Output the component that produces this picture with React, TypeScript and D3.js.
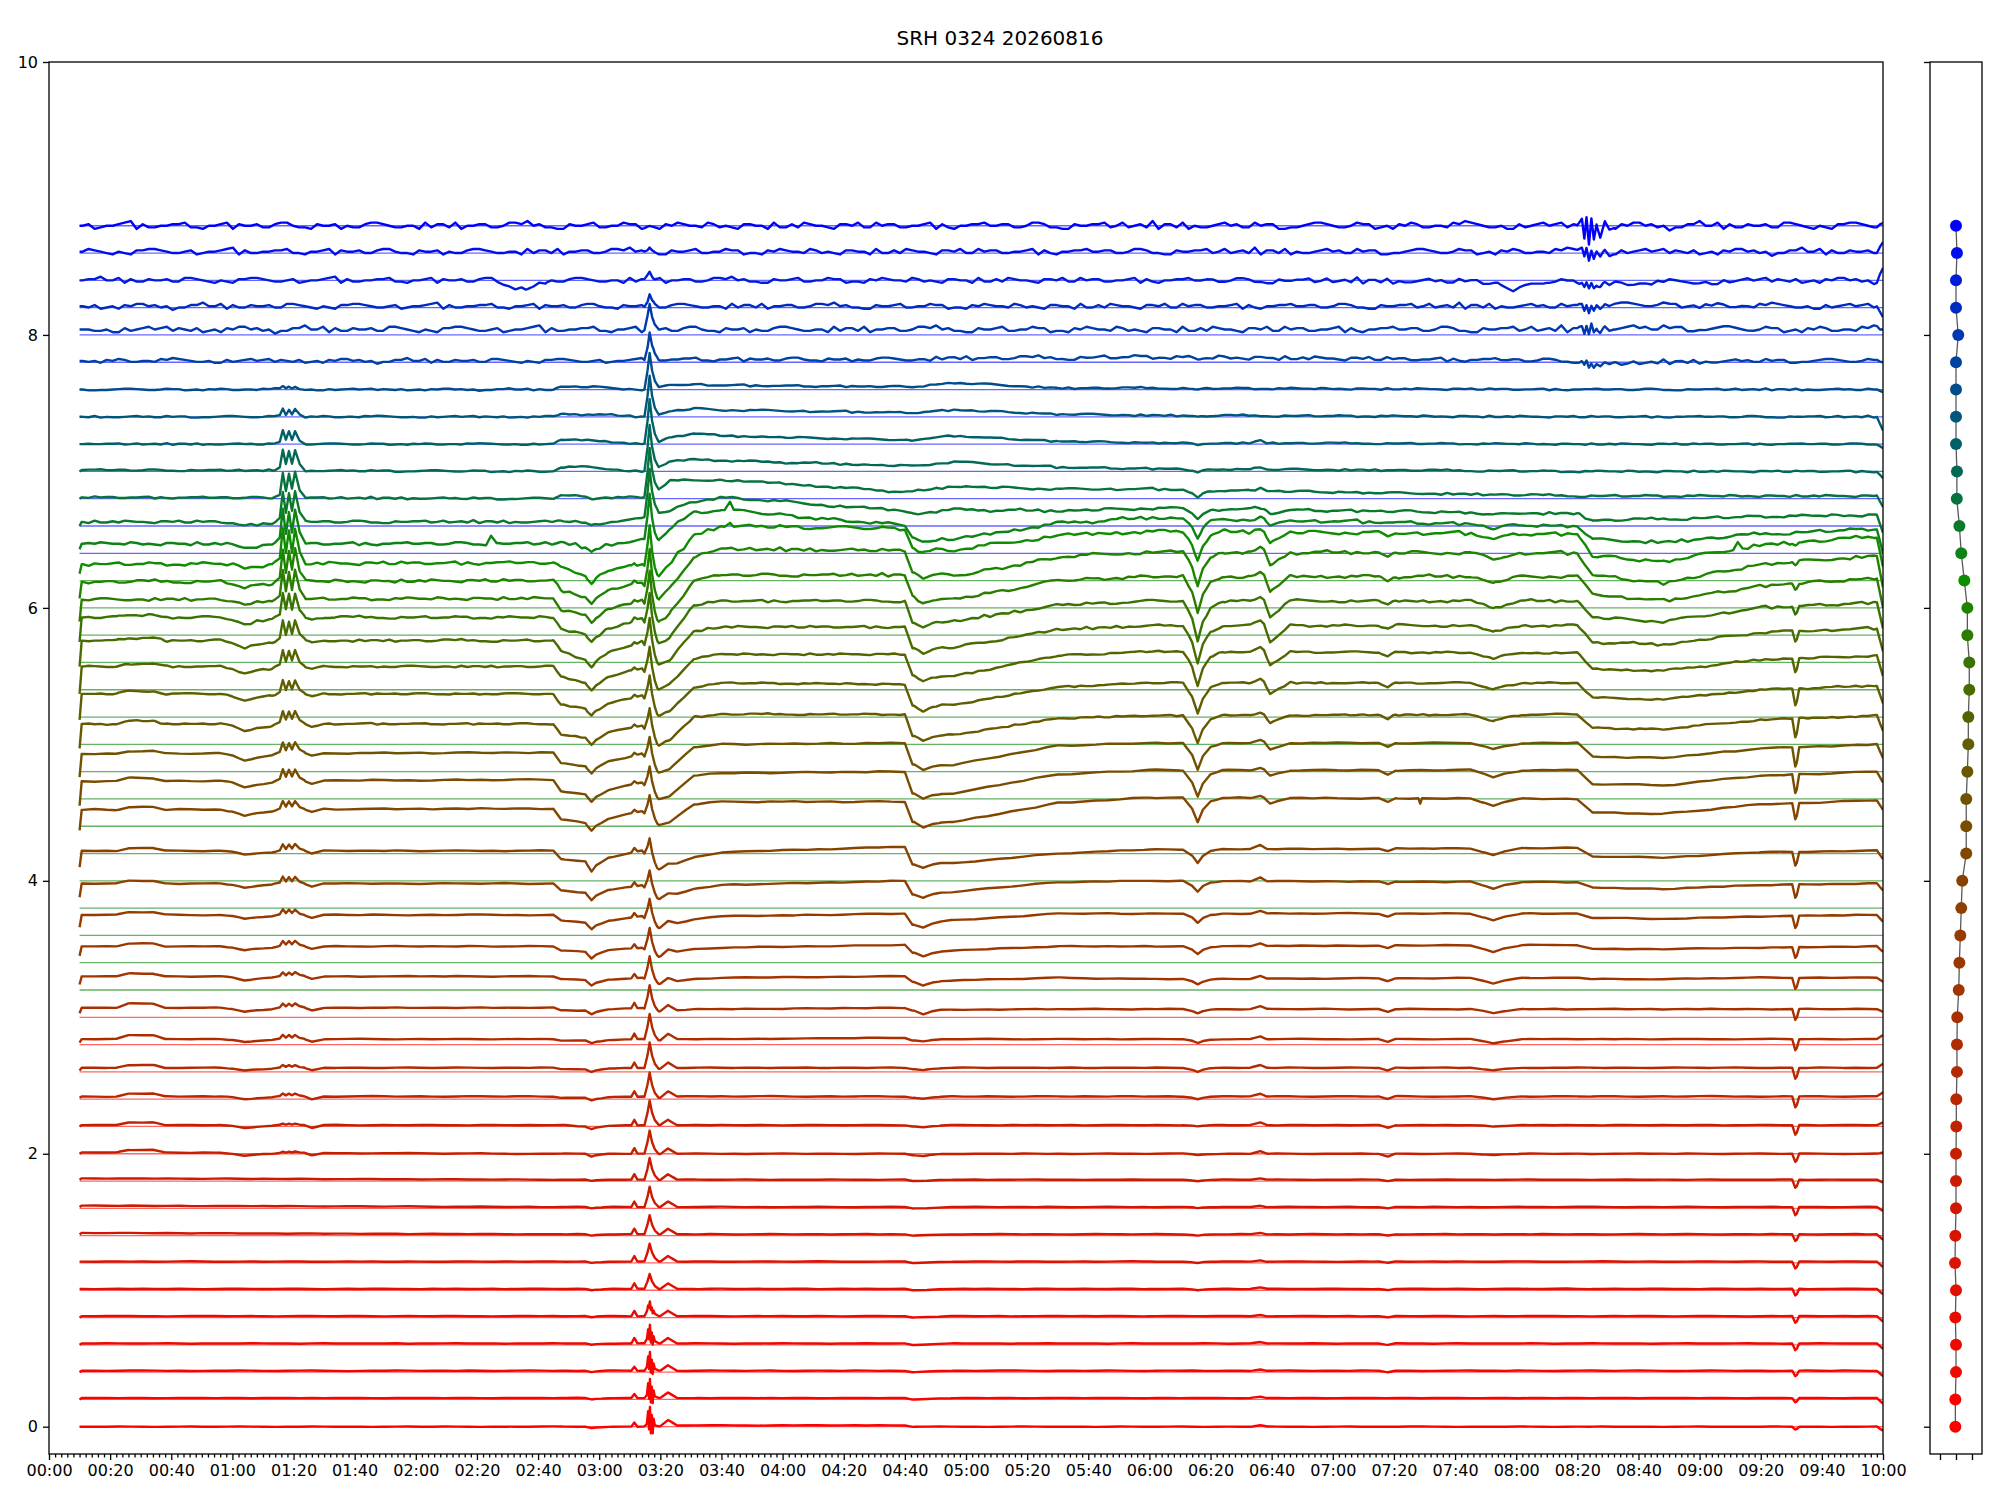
import React, { useEffect, useRef } from "react";
import * as d3 from "d3";

// ---------- data ----------
const title = "SRH 0324 20260816";

// vertical offset of every trace (frequency channel), bottom to top
const offsets = [
  0, 0.2, 0.4, 0.6, 0.8, 1.0, 1.2, 1.4, 1.6, 1.8,
  2.0, 2.2, 2.4, 2.6, 2.8, 3.0, 3.2, 3.4, 3.6, 3.8,
  4.0, 4.2, 4.4, 4.6, 4.8, 5.0, 5.2, 5.4, 5.6, 5.8,
  6.0, 6.2, 6.4, 6.6, 6.8, 7.0, 7.2, 7.4, 7.6, 7.8,
  8.0, 8.2, 8.4, 8.6, 8.8,
];

const timeLabels = [
  "00:00", "00:20", "00:40", "01:00", "01:20", "01:40", "02:00", "02:20", "02:40", "03:00", "03:20",
  "03:40", "04:00", "04:20", "04:40", "05:00", "05:20", "05:40", "06:00", "06:20", "06:40",
  "07:00", "07:20", "07:40", "08:00", "08:20", "08:40", "09:00", "09:20", "09:40", "10:00",
];
const yTicks = [0, 2, 4, 6, 8, 10];

// slow level of each trace above its offset (hundredths), at these minutes
const levelTimes = [10, 10.7, 165, 167.5, 176, 194, 199, 203, 211, 220, 280, 282.5, 296, 330, 360, 500, 505, 528, 560, 598, 600];
const levelRows = [
  [0, 0, 0, 0, 0, 0, 0, 1, 1, 1, 1, 0, 0, 0, 0, 0, 0, 0, 0, 0, -3],
  [0, 1, 1, 1, 1, 1, 1, 1, 1, 1, 1, 0, 1, 1, 1, 1, 1, 1, 1, 1, -3],
  [0, 1, 1, 1, 1, 1, 1, 1, 1, 1, 1, 0, 1, 1, 1, 1, 1, 1, 1, 1, -3],
  [0, 1, 1, 1, 1, 1, 1, 1, 1, 1, 1, 0, 1, 1, 1, 1, 1, 1, 1, 1, -3],
  [0, 1, 1, 1, 1, 1, 1, 1, 1, 1, 1, 0, 1, 1, 1, 1, 1, 1, 1, 1, -3],
  [1, 1, 1, 1, 1, 1, 1, 1, 1, 1, 1, 0, 1, 1, 1, 1, 1, 1, 1, 1, -3],
  [1, 1, 1, 1, 1, 1, 1, 1, 1, 1, 1, 0, 1, 1, 1, 1, 1, 1, 1, 1, -3],
  [1, 2, 1, 1, 1, 1, 1, 1, 1, 1, 1, 0, 1, 1, 1, 1, 1, 1, 1, 1, -3],
  [1, 2, 1, 1, 1, 1, 1, 1, 1, 1, 1, 0, 1, 1, 1, 1, 1, 1, 1, 1, -2],
  [1, 2, 1, 1, 1, 1, 1, 1, 1, 1, 1, 0, 1, 1, 1, 1, 1, 1, 1, 1, -1],
  [0, 1, 0, 0, 0, 0, 0, 0, 0, 0, 0, -1, 0, 0, 0, 0, 0, 0, 0, 0, 1],
  [0, 1, 1, 1, 0, 1, 1, 1, 1, 1, 1, 0, 1, 1, 1, 1, 1, 1, 1, 1, 3],
  [1, 2, 2, 1, 1, 2, 1, 2, 2, 2, 2, 1, 2, 2, 2, 2, 2, 2, 2, 2, 5],
  [1, 3, 3, 2, 2, 3, 2, 3, 3, 3, 3, 2, 3, 3, 3, 3, 3, 3, 3, 3, 6],
  [1.5, 4, 4, 3, 3, 4, 3, 4, 4, 4, 5, 3, 4, 4, 4, 4, 4, 4, 4, 4, 7],
  [3, 7, 7, 5, 5, 7, 4, 5, 6, 6, 7, 5, 5.5, 6, 6, 6, 6, 6, 6, 6, 4],
  [4, 10, 10, 8, 7, 9, 4, 6, 8, 9, 10, 6, 7, 9, 8, 9, 8, 8, 9, 9, 6],
  [5, 12, 12, 9, 8, 11, 4, 7, 10, 11, 13, 7, 9, 12, 12, 13, 10, 10, 11, 12, 8],
  [6, 15, 15, 11, 9, 14, 5, 8, 12, 14, 16, 8, 11, 16, 16, 16, 13, 12, 14, 15, 10],
  [8, 18, 18, 13, 11, 17, 6, 9, 14, 17, 20, 10, 12, 19, 20, 19, 15, 14, 17, 18, 13],
  [10, 22, 22, 16, 14, 22, 8, 11, 17, 21, 25, 12, 13, 20, 23, 24, 18, 17, 21, 22, 16],
  [17, 32, 33, 25, 22, 31, 21, 23, 36, 38, 38, 23, 23, 37, 41, 40, 30, 29, 36, 39, 32],
  [15, 33, 34, 26, 23, 32, 20, 22, 37, 39, 40, 24, 24, 38, 41, 41, 31, 30, 37, 40, 32],
  [16, 33, 34, 26, 24, 33, 19, 22, 38, 40, 41, 25, 25, 39, 41, 41, 31, 30, 37, 40, 30],
  [17, 35, 35, 27, 25, 34, 19, 23, 40, 42, 42, 26, 27, 39, 41, 42, 32, 31, 38, 41, 30],
  [18, 37, 37, 29, 26, 36, 20, 24, 42, 45, 44, 28, 29, 42, 45, 45, 34, 33, 40, 43, 30],
  [17, 37, 37, 29, 25, 36, 19, 24, 43, 46, 46, 30, 30, 45, 48, 47, 35, 34, 42, 45, 30],
  [17, 36, 36, 28, 22, 35, 18, 22, 43, 46, 46, 30, 31, 44, 47, 47, 35, 33, 42, 45, 28],
  [15, 33, 33, 25, 20, 32, 14, 18, 42, 45, 45, 29, 30, 42, 45, 45, 33, 30, 40, 44, 25],
  [10, 26, 27, 19, 14, 26, 8, 16, 40, 44, 44, 28, 26, 40, 43, 43, 30, 25, 36, 42, 20],
  [7, 19, 20, 13, 8, 19, 4, 14, 38, 43, 42, 27, 23, 37, 41, 40, 24, 18, 32, 38, 15],
  [5, 12, 13, 9, 4, 12, 2, 12, 33, 40, 38, 24, 22, 33, 36, 34, 18, 14, 26, 32, 10],
  [3, 7, 7, 8, 4, 10, 8, 18, 30, 32, 20, 12, 10, 22, 26, 20, 10, 8, 14, 18, 0],
  [0, 3, 3, 4, 2, 5, 10, 11, 18, 21, 11, 9, 12, 11, 13, 9, 4, 5, 7, 8, -5],
  [0, 1, 0, 3, 1, 1, 6, 13, 13, 14, 5, 5, 9, 7, 7, 2, 2, 2, 2, 2, -6],
  [0, 1, 0, 3, 3, 0, 2, 7, 9, 8, 4, 4, 7, 3, 2, 0, 0, 0, 0, 0, -5],
  [0, 0, 0, 3, 3, 0, 1, 5, 8, 6, 3, 3, 6, 2, 1, 0, 0, 0, 0, 0, -3],
  [0, 0, 0, 2, 2, 0, 1, 4, 6, 5, 3, 3, 5, 2, 1, 0, 0, 0, 0, 0, -10],
  [0, 0, 0, 2, 2, 0, 1, 3, 4, 3, 2, 2, 5, 1, 1, 0, 0, 0, 0, 0, -2],
  [1, 1, 1, 1, 1, 1, 2, 2, 2, 2, 2, 2, 3, 3, 4, 1, -2, 0, 1, 1, 0],
  [4, 4, 4, 4, 4, 4, 4, 4, 4, 4, 4, 4, 4, 4, 4, 4, 5, 5, 4, 4, 4],
  [1, 1, 1, 1, 1, 1, 1, 1, 1, 1, 1, 1, 1, 1, 1, 1, 2, 2, 1, 1, -7],
  [0, 0, 0, 0, 0, 0, 0, 0, 0, 0, 0, 0, 0, 0, 0, -1, -3, -2, 0, 0, 9],
  [1, 1, 1, 1, 1, 1, 1, 1, 1, 1, 1, 1, 1, 1, 1, 1, 1, 1, 1, 1, 8],
  [0, 0, 0, 0, 0, 0, 0, 0, 0, 0, 0, 0, 0, 0, 0, 0, 0, 0, 0, 0, 2],
];

// shapes of the short events ([minute, relative size])
const burstShape = [[73, 0], [75.5, 0.15], [76.5, 1], [77.5, 0.3], [78.5, 0.95], [79.5, 0.35], [80.5, 1], [82, 0.3], [84, 0]];
const dip64Shape = [[56, 0], [60, -0.3], [64, -1], [68, -0.6], [73, -0.3], [76, 0]];
const dip86Shape = [[83.5, 0], [86, -1], [90, 0]];
const bump30Shape = [[22, 0], [26, 1], [34, 1], [38, 0]];
const dip177Shape = [[175.5, 0], [177.5, -1], [179, -0.5], [183, 0]];
const pre191Shape = [[190.5, 0], [191.5, 1], [192.5, 0]];
const spikeShape = [[194.8, 0], [195.8, 0.5], [196.5, 1], [197.3, 0.5], [198.2, 0.2], [199.5, 0]];
const bump202Shape = [[200, 0], [202.5, 1], [205.5, 0]];
const jitterShape = [[195.6, 0], [196, 1], [196.3, -0.8], [196.6, 1.2], [196.9, -1.1], [197.2, 0.7], [197.5, -0.9], [197.8, 0.5], [198.2, 0]];
const dip286Shape = [[283, 0], [286, -1], [289, -0.3], [292, 0]];
const dip375Shape = [[371, 0], [374, -0.45], [375.8, -1], [377.5, -0.5], [380, -0.15], [384, 0]];
const dip399Shape = [[393, 0], [396.3, 0.2], [397.5, 0.05], [399.5, -1], [402, -0.6], [406, 0]];
const bump396Shape = [[393, 0], [396.3, 1], [398.5, 0]];
const dip438Shape = [[435, 0], [438, -1], [440.5, 0]];
const dip472Shape = [[465, 0], [470, -0.6], [472.5, -1], [476, -0.5], [482, 0]];
const dip571Shape = [[570.3, 0], [571.3, -1], [571.8, -0.8], [572.6, 0]];
const stormShape = [[500, 0], [501.5, 0.4], [502.3, -0.6], [503, 0.5], [503.8, -1], [504.6, 0.3], [505.4, -0.7], [506.3, 0.2], [507.5, -0.5], [509, 0.3], [510.5, -0.2], [512, 0]];

// size of each event on each trace (hundredths), bottom to top
const burstAmp = [0, 0, 0, 0, 0, 0, 0, 0, 0, 0, 1, 1, 2, 2, 3, 3, 3, 4, 4, 5, 5, 6, 8, 8, 9, 10, 12, 15, 18, 22, 24, 26, 25, 22, 19, 15, 10, 6, 2, 0, 0, 0, 0, 0, 0];
const dip64Amp = [0, 0, 0, 0, 0, 0, 0, 0, 0, 0, 2, 2, 2, 2, 2, 3, 3, 3, 3, 3, 3, 5, 5, 5, 5, 5, 5, 5, 5, 5, 5, 3, 3, 3, 0, 0, 0, 0, 0, 0, 0, 0, 0, 0, 0];
const dip86Amp = [0, 0, 0, 0, 0, 0, 0, 0, 0, 0, 2, 2, 2, 2, 2, 2, 2, 2, 2, 2, 2, 2, 2, 2, 2, 2, 2, 2, 2, 0, 0, 0, 0, 0, 0, 0, 0, 0, 0, 0, 0, 0, 0, 0, 0];
const bump30Amp = [0, 0, 0, 0, 0, 0, 0, 0, 0, 0, 2, 2, 2, 2, 3, 3, 2, 2, 2, 2, 2, 2, 2, 2, 2, 2, 2, 2, 2, 0, 0, 0, 0, 0, 0, 0, 0, 0, 0, 0, 0, 0, 0, 0, 0];
const dip177Amp = [1, 1, 1, 1, 1, 1, 1, 1, 1, 1, 2, 2, 2, 2, 2, 3, 4, 5, 5, 6, 8, 6, 6, 6, 6, 6, 6, 6, 6, 6, 6, 6, 4, 2, 1, 0, 0, 0, 0, 0, 0, 0, 0, 0, 0];
const pre191Amp = [3, 3, 3, 4, 4, 4, 4, 4, 4, 4, 4, 4, 4, 4, 4, 4, 3, 3, 3, 3, 3, 2, 2, 2, 2, 2, 2, 2, 2, 2, 2, 2, 0, 0, 0, 0, 0, 0, 0, 0, 0, 0, 0, 0, 0];
const spikeAmp = [5, 6, 7, 8, 9, 11, 13, 14, 15, 16, 17, 18, 18, 19, 19, 18, 18, 18, 17, 16, 16, 17, 18, 19, 20, 22, 24, 26, 28, 30, 32, 33, 34, 34, 34, 33, 32, 30, 26, 21, 18, 10, 6, 4, 1];
const bump202Amp = [4, 4, 4, 4, 4, 4, 4, 4, 4, 4, 4, 4, 4, 4, 4, 4, 3, 3, 3, 2, 2, 0, 0, 0, 0, 0, 0, 0, 0, 0, 0, 0, 0, 0, 0, 0, 0, 0, 0, 0, 0, 0, 0, 0, 0];
const jitterAmp = [8, 7, 6, 5, 2, 0, 0, 0, 0, 0, 0, 0, 0, 0, 0, 0, 0, 0, 0, 0, 0, 0, 0, 0, 0, 0, 0, 0, 0, 0, 0, 0, 0, 0, 0, 0, 0, 0, 0, 0, 0, 0, 0, 0, 0];
const dip286Amp = [0, 0, 0, 0, 0, 0, 0, 0, 0, 0, 1, 1, 1, 1, 1, 3, 3, 3, 3, 3, 3, 4, 4, 4, 4, 4, 4, 4, 4, 4, 4, 3, 3, 0, 0, 0, 0, 0, 0, 0, 0, 0, 0, 0, 0];
const dip375Amp = [0, 0, 0, 0, 0, 1, 1, 1, 1, 1, 1, 1, 2, 3, 3, 3, 4, 6, 7, 8, 10, 18, 19, 20, 20, 22, 25, 28, 30, 28, 25, 20, 14, 7, 6, 3, 2, 1, 1, 2, 0, 0, 0, 0, 0];
const dip399Amp = [0, 0, 0, 0, 0, 0, 0, 0, 0, 0, 0, 0, 0, 0, 0, 0, 0, 0, 0, 0, 0, 4, 4, 5, 6, 8, 10, 12, 12, 12, 10, 8, 5, 3, 0, 0, 0, 0, 0, 0, 0, 0, 0, 0, 0];
const bump396Amp = [1, 1, 1, 1, 1, 1, 1, 1, 1, 1, 2, 2, 2, 2, 2, 2, 2, 2, 2, 3, 3, 1, 1, 1, 1, 1, 1, 1, 1, 1, 1, 1, 1, 1, 2, 2, 2, 0, 0, 0, 0, 0, 0, 0, 0];
const dip438Amp = [0, 0, 1, 1, 1, 1, 1, 1, 1, 1, 2, 2, 2, 2, 2, 2, 2, 2, 2, 2, 2, 3, 3, 3, 3, 3, 3, 3, 3, 3, 3, 3, 0, 0, 0, 0, 0, 0, 0, 0, 0, 0, 0, 0, 0];
const dip472Amp = [0, 0, 0, 0, 0, 0, 0, 0, 0, 0, 1, 1, 2, 2, 3, 3, 4, 5, 5, 5, 5, 5, 5, 5, 5, 5, 5, 5, 5, 5, 5, 4, 3, 2, 0, 0, 0, 0, 0, 0, 0, 0, 0, 0, 0];
const dip571Amp = [2, 3, 4, 5, 5, 5, 5, 5, 6, 6, 6, 7, 8, 8, 8, 8, 8, 8, 9, 10, 10, 12, 14, 14, 14, 12, 10, 8, 6, 4, 3, 2, 0, 0, 0, 0, 0, 0, 0, 0, 0, 0, 0, 0, 0];
const stormAmp = [0, 0, 0, 0, 0, 0, 0, 0, 0, 0, 0, 0, 0, 0, 0, 0, 0, 0, 0, 0, 0, 0, 0, 0, 0, 0, 0, 0, 0, 0, 0, 0, 0, 0, 0, 0, 0, 0, 0, 3, 5, 4, 3, 6, 14];

// single features that only show on one trace
const oneOffs = [
  { series: 42, amp: 7, shape: [[145, 0], [156, -1], [163, 0]] },
  { series: 42, amp: 8, shape: [[474, 0], [479, -1], [485, -0.3], [490, 0]] },
  { series: 32, amp: 7, shape: [[143, 0], [144.6, 1], [146.5, 0]] },
  { series: 32, amp: 6, shape: [[221, 0], [222.8, 1], [224, 0]] },
  { series: 31, amp: 3, shape: [[221, 0], [222.8, 1], [224, 0]] },
  { series: 31, amp: 5, shape: [[551, 0], [552.5, 1], [554, 0]] },
  { series: 21, amp: 4, shape: [[448, 0], [448.6, -1], [449.2, 0]] },
];

// small fast wiggles (hundredths) and how strong they are on each trace
const rippleA = [
  0, 1, -1, 2, 1, -1, -2, 0, 1, 2, 0, -1, 1, 3, 1, -1, -2, -1, 0, 2,
  1, -1, 0, 1, -2, -1, 1, 2, 0, -1, 2, 1, -1, -2, 0, 1, -1, 0, 2, 3,
  1, -1, 0, -2, -1, 1, 0, 2, 1, -1, -2, 0, 1, 2, 0, -1, -3, -1, 1, 0,
  2, 1, -1, 0, 1, -1, 2, 0, -2, -1, 1, 2, 1, -1, 0, -2, 0, 1, 3, 1,
  -1, 0, 1, -1, -2, 0, 2, 1, 0, -1, 1, 2, -1, -2, 0, 1, 0, -1, 2, 1,
  -1, 0, -2, -1, 1, 2, 0, 1, -1, 0, 2, 3, 1, -1, -2, 0, 1, -1, 0, 2,
  1, -1, -2, 0, 1, 0, 2, -1, -1, 1, 0, -2, -1, 1, 2, 0, -1, 1, 0, -1,
  2, 1, -1, 0, 1, -2, -1, 0, 1, 2,
];
const rippleB = [
  1, -1, 0, 2, -1, -2, 1, 0, 1, -1, 2, 0, -1, -2, 1, 2, 0, -1, 1, 0,
  -1, 2, 1, -2, -1, 0, 2, 1, -1, 0, 1, -2, 0, 1, 2, -1, 0, -1, 1, 2,
  0, -1, -2, 1, 0, 2, 1, -1, 0, 1, -1, -2, 0, 2, 1, 0, -1, 1, 3, 0,
  -2, -1, 1, 0, -1, 2, 1, -1, 0, -2, 1, 2, 0, -1, 1, -1, 0, 2, -2, -1,
  0, 1, 2, -1, 0, 1, -2, 0, 1, -1, 2, 0, -1, 1, 0, -2, -1, 1, 2, 0,
  -1, 0, 2, 1, -1, -2, 0, 1, -1, 2, 1, 0, -1, -2, 1, 0, 2, -1, 0, 1,
  -2, -1, 1, 2, 0, -1, 1, 0, -2, 1, 0, 2, -1, -1, 1, 0, -2, 1, 2, -1,
  0, 1, -1, 0, 2, 1, -2, 0, 1, 0,
];
const noiseAmp = [
  0.08, 0.08, 0.08, 0.08, 0.08, 0.08, 0.08, 0.08, 0.08, 0.08,
  0.1, 0.1, 0.1, 0.1, 0.1, 0.12, 0.12, 0.12, 0.15, 0.15,
  0.15, 0.2, 0.2, 0.2, 0.25, 0.25, 0.3, 0.4, 0.45, 0.5,
  0.55, 0.6, 0.55, 0.45, 0.35, 0.3, 0.25, 0.3, 0.3, 0.7,
  1.0, 0.9, 0.9, 1.0, 1.15,
];

// right-hand panel: one dot per trace
const dotX = [
  -0.04, -0.04, 0, 0, -0.04, 0, -0.06, -0.04, 0, 0,
  0, 0.02, 0.02, 0.06, 0.06, 0.08, 0.17, 0.21, 0.27, 0.33,
  0.39, 0.64, 0.64, 0.64, 0.71, 0.77, 0.77, 0.83, 0.83, 0.71,
  0.71, 0.52, 0.33, 0.21, 0.05, 0.06, 0, 0, 0, 0,
  0.14, 0, 0, 0.06, 0,
];
const sideTicks = [-1, 0, 1];

// ---------- layout ----------
const W = 2000;
const H = 1500;
const plot = { left: 49, right: 1883, top: 62, bottom: 1454 };
const side = { left: 1930, right: 1982 };
const FONT = "DejaVu Sans, Liberation Sans, sans-serif";

const x = d3.scaleLinear().domain([0, 600]).range([plot.left, plot.right]);
const y = d3.scaleLinear().domain([-0.2, 10]).range([plot.bottom, plot.top]);
const sx = d3.scaleLinear().domain([-1.625, 1.625]).range([side.left, side.right]);

const colour = d3
  .scaleLinear<string>()
  .domain([0, 8, 15, 21, 26, 31, 36, 40, 44])
  .range(["#ff0000", "#d01800", "#a83000", "#824600", "#566400", "#108c00", "#00606a", "#0038b0", "#0000ff"])
  .interpolate(d3.interpolateRgb);
const baseColour = (i: number) => (i <= 15 ? "red" : i <= 31 ? "green" : "blue");

const events = [
  { shape: burstShape, amp: burstAmp },
  { shape: dip64Shape, amp: dip64Amp },
  { shape: dip86Shape, amp: dip86Amp },
  { shape: bump30Shape, amp: bump30Amp },
  { shape: dip177Shape, amp: dip177Amp },
  { shape: pre191Shape, amp: pre191Amp },
  { shape: spikeShape, amp: spikeAmp },
  { shape: bump202Shape, amp: bump202Amp },
  { shape: jitterShape, amp: jitterAmp },
  { shape: dip286Shape, amp: dip286Amp },
  { shape: dip375Shape, amp: dip375Amp },
  { shape: dip399Shape, amp: dip399Amp },
  { shape: bump396Shape, amp: bump396Amp },
  { shape: dip438Shape, amp: dip438Amp },
  { shape: dip472Shape, amp: dip472Amp },
  { shape: dip571Shape, amp: dip571Amp },
  { shape: stormShape, amp: stormAmp },
];

const bis = d3.bisector((k: number[]) => k[0]).right;
function at(knots: number[][], t: number, clamp: boolean) {
  const n = knots.length;
  if (t <= knots[0][0]) return clamp ? knots[0][1] : 0;
  if (t >= knots[n - 1][0]) return clamp ? knots[n - 1][1] : 0;
  const j = bis(knots, t);
  const a = knots[j - 1];
  const b = knots[j];
  return a[1] + ((b[1] - a[1]) * (t - a[0])) / (b[0] - a[0]);
}

const rippleFine = rippleA.flatMap((v, k) => [v, rippleB[k]]);

function trace(i: number): [number, number][] {
  const level = levelTimes.map((t, k) => [t, levelRows[i][k]]);
  const parts: { knots: number[][]; amp: number }[] = [];
  events.forEach((e) => {
    if (e.amp[i]) parts.push({ knots: e.shape, amp: e.amp[i] });
  });
  oneOffs.forEach((o) => {
    if (o.series === i) parts.push({ knots: o.shape, amp: o.amp });
  });
  const rip = noiseAmp[i] >= 0.25 ? rippleFine : i % 2 ? rippleB : rippleA;
  const step = 588 / (rip.length - 1);
  const shift = (i * 17) % rip.length;
  const ripKnots = rip.map((_, k) => [11 + k * step, rip[(k + shift) % rip.length] * noiseAmp[i]]);
  parts.push({ knots: ripKnots, amp: 1 });

  const times = new Set<number>(levelTimes);
  parts.forEach((p) => p.knots.forEach((k) => times.add(k[0])));
  const ts = Array.from(times).filter((t) => t >= 10 && t <= 600).sort((a, b) => a - b);
  return ts.map((t) => {
    let v = at(level, t, true);
    parts.forEach((p) => (v += p.amp * at(p.knots, t, false)));
    return [t, offsets[i] + v / 100];
  });
}

const line = d3
  .line<[number, number]>()
  .x((d) => x(d[0]))
  .y((d) => y(d[1]));

export default function App() {
  const xMajorRef = useRef<SVGGElement>(null);
  const xMinorRef = useRef<SVGGElement>(null);
  const yRef = useRef<SVGGElement>(null);
  const sideYRef = useRef<SVGGElement>(null);
  const sideXRef = useRef<SVGGElement>(null);

  useEffect(() => {
    document.body.style.margin = "0";
    const style = (g: any) => {
      g.select(".domain").remove();
      g.attr("font-family", FONT).attr("font-size", 16);
      g.selectAll("line").attr("stroke", "#000").attr("stroke-width", 1.3);
      g.selectAll("text").attr("fill", "#000");
    };
    const majorTimes = timeLabels.map((_, k) => k * 20);
    const minorTimes = d3.range(0, 601, 2).filter((t) => t % 20 !== 0);

    d3.select(xMajorRef.current)
      .call(
        d3.axisBottom(x).tickValues(majorTimes).tickFormat((_d, k) => timeLabels[k]).tickSize(6).tickPadding(5).tickSizeOuter(0) as any
      )
      .call(style);
    d3.select(xMinorRef.current)
      .call(d3.axisBottom(x).tickValues(minorTimes).tickFormat(() => "").tickSize(3.5).tickSizeOuter(0) as any)
      .call(style);
    d3.select(yRef.current)
      .call(d3.axisLeft(y).tickValues(yTicks).tickFormat(d3.format("d")).tickSize(6).tickPadding(5).tickSizeOuter(0) as any)
      .call(style);
    d3.select(sideYRef.current)
      .call(d3.axisLeft(y).tickValues(yTicks).tickFormat(() => "").tickSize(6).tickSizeOuter(0) as any)
      .call(style);
    d3.select(sideXRef.current)
      .call(d3.axisBottom(sx).tickValues(sideTicks).tickFormat(() => "").tickSize(6).tickSizeOuter(0) as any)
      .call(style);
  }, []);

  const traces = offsets.map((_, i) => trace(i));
  const dotLine = d3
    .line<number>()
    .x((_d, i) => sx(dotX[i]))
    .y((d) => y(d));

  return (
    <svg width={W} height={H} viewBox={`0 0 ${W} ${H}`} style={{ display: "block", background: "#fff" }}>
      <rect x={0} y={0} width={W} height={H} fill="#fff" />
      <text x={1000} y={45} textAnchor="middle" fontFamily={FONT} fontSize={20} fill="#000">
        {title}
      </text>

      <defs>
        <clipPath id="plotClip">
          <rect x={plot.left} y={plot.top} width={plot.right - plot.left} height={plot.bottom - plot.top} />
        </clipPath>
      </defs>

      <g clipPath="url(#plotClip)">
        {offsets.map((o, i) => (
          <line
            key={"b" + i}
            x1={x(10)}
            x2={x(600)}
            y1={y(o)}
            y2={y(o)}
            stroke={baseColour(i)}
            strokeOpacity={0.6}
            strokeWidth={1.3}
          />
        ))}
        {traces.map((pts, i) => (
          <path
            key={"t" + i}
            d={line(pts) || ""}
            fill="none"
            stroke={colour(i)}
            strokeWidth={2.4}
            strokeLinejoin="round"
          />
        ))}
      </g>

      <rect
        x={plot.left}
        y={plot.top}
        width={plot.right - plot.left}
        height={plot.bottom - plot.top}
        fill="none"
        stroke="#000"
        strokeWidth={1.3}
      />
      <g ref={xMinorRef} transform={`translate(0,${plot.bottom})`} />
      <g ref={xMajorRef} transform={`translate(0,${plot.bottom})`} />
      <g ref={yRef} transform={`translate(${plot.left},0)`} />

      {/* side panel */}
      <path d={dotLine(offsets) || ""} fill="none" stroke="#000" strokeOpacity={0.65} strokeWidth={1.3} />
      {offsets.map((o, i) => (
        <circle key={"d" + i} cx={sx(dotX[i])} cy={y(o)} r={6} fill={colour(i)} />
      ))}
      <rect
        x={side.left}
        y={plot.top}
        width={side.right - side.left}
        height={plot.bottom - plot.top}
        fill="none"
        stroke="#000"
        strokeWidth={1.3}
      />
      <g ref={sideYRef} transform={`translate(${side.left},0)`} />
      <g ref={sideXRef} transform={`translate(0,${plot.bottom})`} />
    </svg>
  );
}
